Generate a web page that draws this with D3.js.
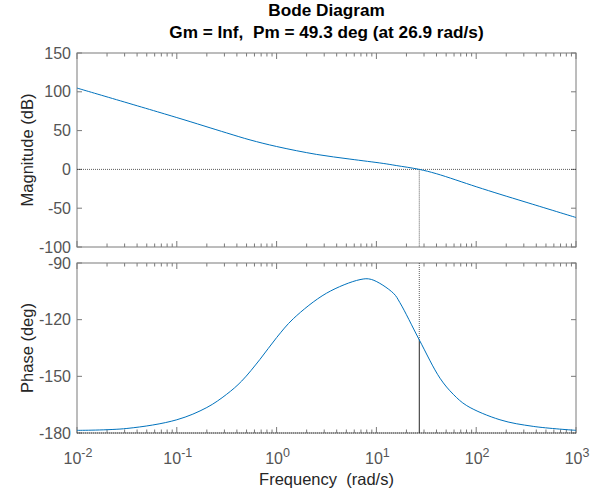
<!DOCTYPE html>
<html>
<head>
<meta charset="UTF-8">
<script src="https://cdn.jsdelivr.net/npm/d3@7"></script>
<style>
  body { margin: 0; background: #fff; }
  svg { font-family: 'Liberation Sans', Arial, sans-serif; }
  .tick-label { font-size: 16px; fill: #555; }
  .axis-label { font-size: 16.5px; fill: #262626; }
  .title { font-size: 17.2px; font-weight: bold; fill: #000; }
</style>
</head>
<body>
<script>
// values
var magFreq = [0.01, 0.1, 0.316, 0.542, 1, 2.52, 5.43, 11.7, 15.8, 26.9, 39.8, 100, 173, 316, 1000];
var magDb   = [104.8, 66.8, 47.0, 38.0, 29.5, 19.3, 13.3, 7.7, 5.0, 0, -5.5, -22.3, -32.0, -42.3, -62];

var phFreq = [0.01, 0.0316, 0.1, 0.2, 0.316, 0.447, 0.682, 1, 1.47, 3.16, 6.85, 8.9, 14.8, 17.2, 26.9, 43.4, 58.9, 80.4, 173, 373, 1000];
var phDeg  = [-178.6, -177.6, -173, -166.5, -159.5, -152.5, -141, -129.5, -119.5, -106, -98.8, -98.7, -106, -111, -130.7, -151, -159.5, -165.5, -173, -176.5, -178.6];

var magTicks = [150, 100, 50, 0, -50, -100];
var phTicks = [-90, -120, -150, -180];
var decades = [-2, -1, 0, 1, 2, 3];

var wc = 26.9, pmPhase = -130.7;
var titleLines = ["Bode Diagram", "Gm = Inf,  Pm = 49.3 deg (at 26.9 rad/s)"];

var W = 605, H = 492;
var left = 77, right = 576;
var magTop = 53, magBot = 247, phTop = 263, phBot = 433;

var svg = d3.select("body").append("svg").attr("width", W).attr("height", H);

var x = d3.scaleLog().domain([0.01, 1000]).range([left, right]);
var yMag = d3.scaleLinear().domain([-100, 150]).range([magBot, magTop]);
var yPh = d3.scaleLinear().domain([-180, -90]).range([phBot, phTop]);

var blue = "#0072bd", boxCol = "#7a7a7a";

function panel(y, top, bot, ticks) {
  var g = svg.append("g");
  // minor/major x ticks top and bottom
  var xt = [];
  decades.forEach(function(d) {
    for (var m = 1; m <= 9; m++) {
      var v = m * Math.pow(10, d);
      if (v <= 1000) xt.push({v: v, major: m === 1});
    }
  });
  xt.forEach(function(t) {
    var len = t.major ? 6 : 3.5;
    g.append("line").attr("x1", x(t.v)).attr("x2", x(t.v)).attr("y1", bot).attr("y2", bot - len)
      .attr("stroke", boxCol).attr("stroke-width", 1);
    g.append("line").attr("x1", x(t.v)).attr("x2", x(t.v)).attr("y1", top).attr("y2", top + len)
      .attr("stroke", boxCol).attr("stroke-width", 1);
  });
  ticks.forEach(function(t) {
    g.append("line").attr("x1", left).attr("x2", left + 5).attr("y1", y(t)).attr("y2", y(t))
      .attr("stroke", boxCol);
    g.append("line").attr("x1", right).attr("x2", right - 5).attr("y1", y(t)).attr("y2", y(t))
      .attr("stroke", boxCol);
    g.append("text").attr("class", "tick-label").attr("x", left - 6).attr("y", y(t))
      .attr("dy", "0.35em").attr("text-anchor", "end").text(t);
  });
  g.append("rect").attr("x", left).attr("y", top).attr("width", right - left).attr("height", bot - top)
    .attr("fill", "none").attr("stroke", boxCol).attr("stroke-width", 1);
  return g;
}

panel(yMag, magTop, magBot, magTicks);
panel(yPh, phTop, phBot, phTicks);

function dotted(x1, y1, x2, y2) {
  svg.append("line").attr("x1", x1).attr("y1", y1).attr("x2", x2).attr("y2", y2)
    .attr("stroke", "#333").attr("stroke-width", 0.8).attr("stroke-dasharray", "1,1");
}

// reference lines
dotted(left, yMag(0), right, yMag(0));
dotted(x(wc), yMag(0), x(wc), magBot);
dotted(left, yPh(-180), right, yPh(-180));
dotted(x(wc), phTop, x(wc), yPh(pmPhase));
svg.append("line").attr("x1", x(wc)).attr("x2", x(wc)).attr("y1", yPh(-180)).attr("y2", yPh(pmPhase))
  .attr("stroke", "#262626").attr("stroke-width", 1);

// curves
var magLine = d3.line().x(function(d, i) { return x(magFreq[i]); }).y(function(d) { return yMag(d); })
  .curve(d3.curveCatmullRom.alpha(0.5));
svg.append("path").attr("d", magLine(magDb)).attr("fill", "none").attr("stroke", blue).attr("stroke-width", 1);

var phLine = d3.line().x(function(d, i) { return x(phFreq[i]); }).y(function(d) { return yPh(d); })
  .curve(d3.curveCatmullRom.alpha(0.5));
svg.append("path").attr("d", phLine(phDeg)).attr("fill", "none").attr("stroke", blue).attr("stroke-width", 1);

// x tick labels 10^k
decades.forEach(function(d) {
  var t = svg.append("text").attr("class", "tick-label").attr("x", x(Math.pow(10, d)) + 1)
    .attr("y", 464).attr("text-anchor", "middle");
  t.append("tspan").text("10");
  t.append("tspan").attr("dy", -7).attr("font-size", "12.5px").text(d);
});

// labels
svg.append("text").attr("class", "axis-label").attr("text-anchor", "middle")
  .attr("transform", "translate(33," + ((magTop + magBot) / 2) + ") rotate(-90)").text("Magnitude (dB)");
svg.append("text").attr("class", "axis-label").attr("text-anchor", "middle")
  .attr("transform", "translate(33," + ((phTop + phBot) / 2) + ") rotate(-90)").text("Phase (deg)");
svg.append("text").attr("class", "axis-label").attr("text-anchor", "middle")
  .attr("x", (left + right) / 2).attr("y", 485).style("white-space", "pre")
  .text("Frequency  (rad/s)");

svg.append("text").attr("class", "title").attr("text-anchor", "middle")
  .attr("x", (left + right) / 2).attr("y", 16).text(titleLines[0]);
svg.append("text").attr("class", "title").attr("text-anchor", "middle")
  .attr("x", (left + right) / 2).attr("y", 38).style("white-space", "pre").text(titleLines[1]);
</script>
</body>
</html>
